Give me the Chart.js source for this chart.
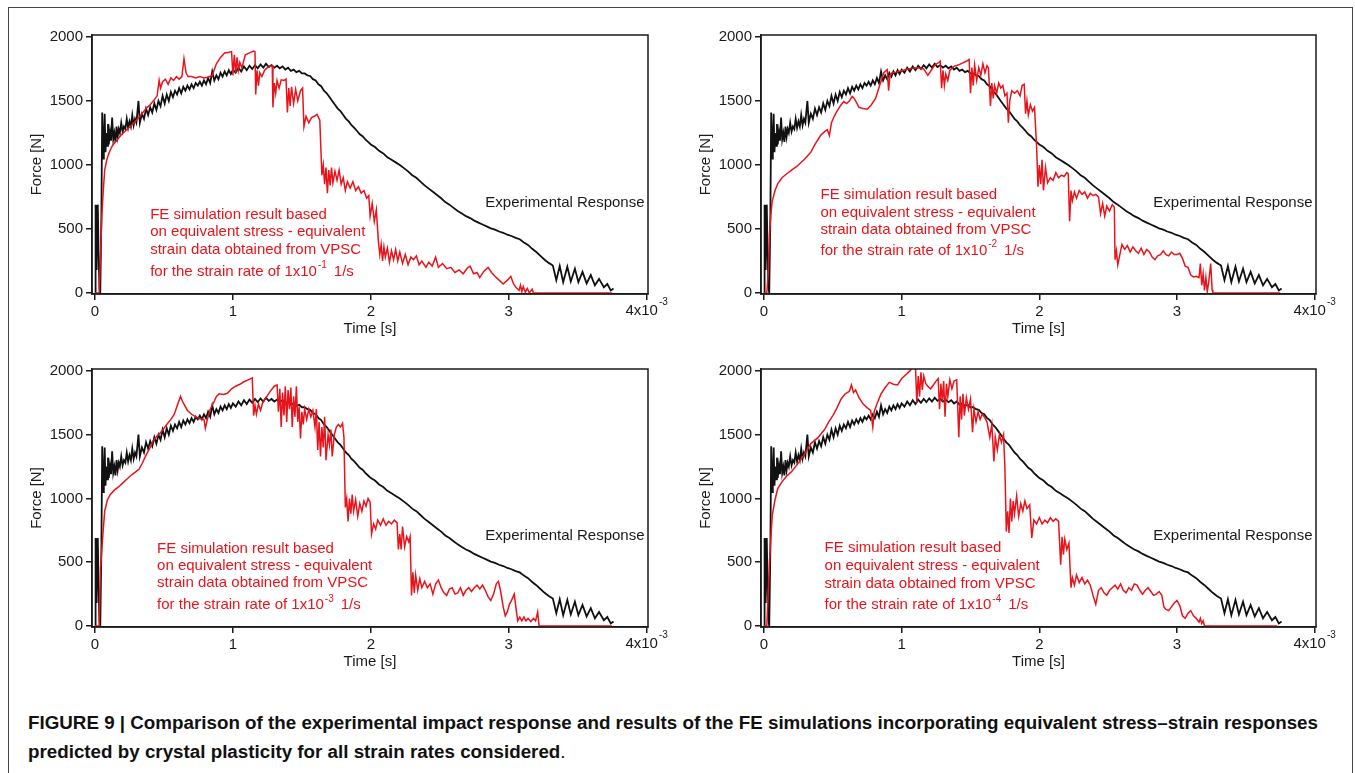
<!DOCTYPE html>
<html>
<head>
<meta charset="utf-8">
<script src="https://cdn.jsdelivr.net/npm/chart.js@4.4.1/dist/chart.umd.min.js"></script>
<style>
  body { margin: 0; width: 1355px; height: 773px; background: #fff; overflow: hidden; position: relative;
         font-family: "Liberation Sans", Arial, sans-serif; }
  #frame { position: absolute; left: 8px; top: 7px; width: 1343px; height: 800px; border: 1.5px solid #444; }
  canvas { position: absolute; }
  #caption { position: absolute; left: 28px; top: 709px; font-weight: bold; font-size: 18px; line-height: 29px;
             color: #111; transform-origin: 0 0; white-space: nowrap; }
  #caption .plain { font-weight: normal; }
</style>
</head>
<body>
<div id="frame"></div>
<canvas id="c1" width="660" height="330" style="left:10px;top:20px"></canvas>
<canvas id="c2" width="659" height="330" style="left:679px;top:20px"></canvas>
<canvas id="c3" width="660" height="329" style="left:10px;top:354px"></canvas>
<canvas id="c4" width="659" height="329" style="left:679px;top:354px"></canvas>
<div id="caption">
  <div id="cap1">FIGURE 9 | Comparison of the experimental impact response and results of the FE simulations incorporating equivalent stress–strain responses</div>
  <div id="cap2">predicted by crystal plasticity for all strain rates considered<span class="plain">.</span></div>
</div>
<script>
// tick values and labels (time axis in units of 1e-3 s)
const xTickValues = [0, 1, 2, 3, 4];
const xTickLabels = ['0', '1', '2', '3', '4x10^-3'];
const yTickValues = [0, 500, 1000, 1500, 2000];

// experimental response, [time (ms), force (N)] -- same curve in all four panels
const expResponse = [
  [0.000, 0], [0.004, 690], [0.008, 320], [0.012, 180], [0.016, 680], [0.020, 690], [0.026, 300],
  [0.032, 40], [0.038, 0], [0.046, 600], [0.052, 1410], [0.058, 1050], [0.064, 1180], [0.070, 1400],
  [0.076, 1100], [0.082, 1250], [0.088, 1150], [0.094, 1320], [0.100, 1160], [0.108, 1260],
  [0.116, 1190], [0.124, 1370], [0.132, 1200], [0.140, 1250], [0.148, 1180], [0.156, 1300],
  [0.164, 1220], [0.172, 1280], [0.180, 1250], [0.190, 1330], [0.200, 1260], [0.210, 1300],
  [0.220, 1280], [0.230, 1360], [0.240, 1290], [0.250, 1340], [0.260, 1300], [0.270, 1390],
  [0.280, 1310], [0.290, 1360], [0.300, 1330], [0.315, 1500], [0.325, 1330], [0.340, 1400],
  [0.355, 1360], [0.370, 1440], [0.385, 1390], [0.400, 1450], [0.415, 1410], [0.430, 1480],
  [0.445, 1430], [0.460, 1500], [0.475, 1460], [0.490, 1540], [0.505, 1480], [0.520, 1550],
  [0.535, 1500], [0.550, 1570], [0.565, 1530], [0.580, 1580], [0.595, 1550], [0.610, 1600],
  [0.625, 1560], [0.640, 1610], [0.655, 1580], [0.670, 1620], [0.685, 1590], [0.700, 1630],
  [0.715, 1600], [0.730, 1640], [0.745, 1620], [0.760, 1650], [0.775, 1620], [0.790, 1660],
  [0.805, 1630], [0.820, 1680], [0.835, 1640], [0.850, 1730], [0.865, 1660], [0.880, 1700],
  [0.895, 1670], [0.910, 1720], [0.925, 1690], [0.940, 1730], [0.955, 1700], [0.970, 1740],
  [0.985, 1710], [1.000, 1745], [1.020, 1720], [1.040, 1760], [1.060, 1730], [1.080, 1770],
  [1.100, 1740], [1.120, 1775], [1.140, 1750], [1.160, 1780], [1.180, 1755], [1.200, 1785],
  [1.220, 1760], [1.240, 1790], [1.260, 1765], [1.280, 1780], [1.300, 1760], [1.320, 1775],
  [1.340, 1755], [1.360, 1770], [1.380, 1745], [1.400, 1760], [1.420, 1735], [1.440, 1745],
  [1.460, 1725], [1.480, 1735], [1.500, 1715], [1.520, 1715], [1.540, 1700], [1.560, 1695],
  [1.580, 1670], [1.600, 1660], [1.620, 1630], [1.640, 1615], [1.660, 1580], [1.680, 1560],
  [1.700, 1530], [1.720, 1500], [1.740, 1470], [1.760, 1440], [1.780, 1420], [1.800, 1390],
  [1.820, 1360], [1.840, 1340], [1.860, 1310], [1.880, 1290], [1.900, 1265], [1.920, 1240],
  [1.940, 1225], [1.960, 1200], [1.980, 1180], [2.000, 1160], [2.030, 1140], [2.060, 1110],
  [2.090, 1090], [2.120, 1060], [2.150, 1040], [2.180, 1020], [2.210, 1000], [2.240, 975],
  [2.270, 950], [2.300, 920], [2.330, 900], [2.360, 870], [2.390, 840], [2.420, 815],
  [2.450, 790], [2.480, 765], [2.510, 740], [2.540, 710], [2.570, 690], [2.600, 665],
  [2.630, 640], [2.660, 620], [2.690, 600], [2.720, 585], [2.750, 565], [2.780, 550],
  [2.810, 535], [2.840, 520], [2.870, 505], [2.900, 495], [2.930, 480], [2.960, 470],
  [2.990, 455], [3.020, 445], [3.050, 430], [3.080, 420], [3.110, 395], [3.140, 375],
  [3.170, 345], [3.200, 320], [3.230, 290], [3.260, 260], [3.290, 235], [3.320, 215],
  [3.345, 100], [3.370, 210], [3.395, 85], [3.425, 205], [3.450, 90], [3.480, 190],
  [3.505, 85], [3.535, 165], [3.565, 75], [3.595, 140], [3.625, 60], [3.655, 110],
  [3.690, 45], [3.715, 70], [3.740, 20], [3.760, 35]
];

// FE simulation, strain rate 1e-1 1/s
const feRate1 = [
  [0.000, 0], [0.030, 0], [0.040, 300], [0.050, 620], [0.060, 800], [0.070, 960], [0.085, 1040],
  [0.100, 1090], [0.120, 1140], [0.140, 1170], [0.160, 1195], [0.190, 1235], [0.220, 1265],
  [0.250, 1295], [0.280, 1325], [0.310, 1360], [0.340, 1400], [0.370, 1440], [0.400, 1470],
  [0.430, 1510], [0.450, 1540], [0.465, 1660], [0.475, 1600], [0.490, 1650], [0.510, 1670],
  [0.530, 1630], [0.550, 1680], [0.570, 1660], [0.590, 1690], [0.610, 1670], [0.630, 1690],
  [0.645, 1830], [0.660, 1720], [0.675, 1690], [0.700, 1690], [0.730, 1680], [0.760, 1690],
  [0.790, 1680], [0.820, 1685], [0.850, 1700], [0.880, 1790], [0.910, 1840], [0.940, 1875],
  [0.970, 1880], [0.990, 1885], [1.000, 1700], [1.010, 1860], [1.020, 1720], [1.030, 1840],
  [1.040, 1740], [1.050, 1800], [1.065, 1760], [1.090, 1860], [1.120, 1875], [1.150, 1890],
  [1.160, 1885], [1.165, 1550], [1.175, 1740], [1.185, 1620], [1.195, 1720], [1.210, 1690],
  [1.230, 1740], [1.250, 1760], [1.270, 1770], [1.285, 1775], [1.290, 1450], [1.300, 1640],
  [1.310, 1560], [1.320, 1660], [1.335, 1600], [1.350, 1665], [1.370, 1660], [1.385, 1670],
  [1.395, 1410], [1.405, 1600], [1.415, 1460], [1.425, 1610], [1.440, 1480], [1.455, 1590],
  [1.470, 1500], [1.490, 1580], [1.505, 1600], [1.515, 1300], [1.530, 1380], [1.550, 1330],
  [1.570, 1370], [1.590, 1380], [1.610, 1395], [1.630, 1350], [1.645, 920], [1.655, 1000],
  [1.665, 850], [1.675, 980], [1.685, 780], [1.695, 960], [1.705, 840], [1.715, 980],
  [1.725, 860], [1.740, 950], [1.755, 880], [1.770, 960], [1.785, 850], [1.800, 900],
  [1.815, 800], [1.830, 870], [1.850, 820], [1.870, 870], [1.890, 800], [1.910, 830],
  [1.930, 780], [1.950, 800], [1.970, 740], [1.985, 760], [1.995, 600], [2.010, 700],
  [2.025, 560], [2.040, 650], [2.055, 400], [2.065, 300], [2.075, 380], [2.085, 250],
  [2.095, 360], [2.105, 280], [2.120, 350], [2.135, 240], [2.150, 330], [2.165, 260],
  [2.180, 340], [2.195, 250], [2.210, 320], [2.230, 230], [2.250, 300], [2.270, 220],
  [2.290, 280], [2.310, 260], [2.330, 290], [2.350, 220], [2.370, 250], [2.400, 200],
  [2.420, 240], [2.445, 210], [2.470, 280], [2.490, 200], [2.520, 230], [2.550, 190],
  [2.580, 200], [2.610, 160], [2.640, 180], [2.670, 150], [2.700, 195], [2.720, 210],
  [2.745, 150], [2.770, 160], [2.790, 120], [2.820, 170], [2.850, 200], [2.875, 160],
  [2.900, 130], [2.930, 100], [2.960, 70], [2.990, 100], [3.015, 130], [3.035, 70],
  [3.055, 40], [3.075, 20], [3.085, 60], [3.095, 10], [3.105, 50], [3.120, 5], [3.135, 35],
  [3.150, 0], [3.170, 30], [3.180, 0], [3.750, 0]
];

// FE simulation, strain rate 1e-2 1/s
const feRate2 = [
  [0.000, 0], [0.020, 0], [0.030, 150], [0.040, 460], [0.050, 620], [0.060, 720], [0.080, 800],
  [0.100, 855], [0.130, 900], [0.170, 935], [0.200, 960], [0.240, 990], [0.290, 1040],
  [0.320, 1075], [0.340, 1100], [0.370, 1160], [0.390, 1195], [0.410, 1230], [0.440, 1260],
  [0.460, 1275], [0.475, 1230], [0.490, 1330], [0.510, 1380], [0.530, 1420], [0.560, 1470],
  [0.580, 1495], [0.600, 1480], [0.620, 1500], [0.640, 1535], [0.655, 1520], [0.670, 1490],
  [0.690, 1450], [0.720, 1440], [0.750, 1435], [0.780, 1470], [0.810, 1520], [0.840, 1620],
  [0.870, 1720], [0.895, 1745], [0.905, 1580], [0.915, 1700], [0.930, 1720], [0.960, 1725],
  [1.000, 1735], [1.040, 1750], [1.080, 1755], [1.110, 1760], [1.140, 1755], [1.160, 1750],
  [1.190, 1700], [1.215, 1740], [1.240, 1780], [1.270, 1800], [1.280, 1810], [1.290, 1600],
  [1.300, 1740], [1.310, 1620], [1.320, 1710], [1.335, 1660], [1.350, 1740], [1.380, 1770],
  [1.410, 1780], [1.440, 1795], [1.470, 1810], [1.490, 1825], [1.500, 1560], [1.510, 1760],
  [1.520, 1620], [1.530, 1780], [1.545, 1660], [1.560, 1760], [1.575, 1700], [1.590, 1790],
  [1.605, 1720], [1.620, 1775], [1.630, 1760], [1.645, 1460], [1.655, 1640], [1.665, 1520],
  [1.675, 1620], [1.690, 1560], [1.705, 1640], [1.720, 1600], [1.735, 1620], [1.750, 1540],
  [1.765, 1560], [1.775, 1330], [1.785, 1500], [1.800, 1580], [1.820, 1560], [1.840, 1580],
  [1.860, 1540], [1.875, 1620], [1.890, 1630], [1.900, 1400], [1.910, 1500], [1.920, 1390],
  [1.935, 1470], [1.950, 1420], [1.965, 1450], [1.980, 1150], [1.990, 830], [2.000, 1000],
  [2.010, 850], [2.020, 1040], [2.030, 800], [2.045, 980], [2.060, 860], [2.080, 900],
  [2.100, 880], [2.120, 940], [2.140, 900], [2.160, 920], [2.180, 910], [2.200, 940],
  [2.210, 930], [2.220, 560], [2.230, 800], [2.240, 720], [2.255, 790], [2.270, 740],
  [2.290, 800], [2.310, 770], [2.330, 790], [2.350, 740], [2.370, 780], [2.390, 760],
  [2.410, 770], [2.430, 750], [2.445, 620], [2.460, 700], [2.475, 600], [2.490, 680],
  [2.510, 640], [2.530, 690], [2.545, 670], [2.550, 260], [2.560, 330], [2.570, 220],
  [2.585, 300], [2.600, 380], [2.620, 340], [2.640, 370], [2.660, 320], [2.680, 360],
  [2.700, 330], [2.720, 310], [2.740, 350], [2.760, 300], [2.780, 340], [2.800, 320],
  [2.820, 280], [2.840, 260], [2.860, 290], [2.880, 300], [2.900, 330], [2.920, 300],
  [2.940, 290], [2.960, 320], [2.980, 300], [3.000, 300], [3.020, 310], [3.040, 270],
  [3.060, 210], [3.080, 200], [3.100, 140], [3.120, 125], [3.140, 130], [3.160, 120],
  [3.170, 230], [3.180, 60], [3.190, 150], [3.200, 20], [3.210, 120], [3.220, 10],
  [3.230, 80], [3.245, 230], [3.255, 30], [3.260, 0], [3.750, 0]
];

// FE simulation, strain rate 1e-3 1/s
const feRate3 = [
  [0.000, 0], [0.030, 0], [0.040, 456], [0.050, 610], [0.060, 760], [0.070, 900], [0.090, 990],
  [0.110, 1030], [0.140, 1065], [0.170, 1090], [0.200, 1120], [0.230, 1150], [0.260, 1180],
  [0.290, 1205], [0.320, 1230], [0.340, 1270], [0.370, 1340], [0.400, 1400], [0.420, 1450],
  [0.450, 1490], [0.470, 1510], [0.500, 1550], [0.520, 1580], [0.550, 1620], [0.575, 1660],
  [0.600, 1740], [0.620, 1800], [0.635, 1760], [0.650, 1730], [0.670, 1690], [0.700, 1660],
  [0.730, 1640], [0.760, 1625], [0.790, 1620], [0.800, 1550], [0.815, 1620], [0.835, 1700],
  [0.860, 1750], [0.880, 1800], [0.900, 1820], [0.930, 1815], [0.960, 1825], [0.990, 1860],
  [1.020, 1880], [1.050, 1895], [1.080, 1915], [1.110, 1930], [1.140, 1945], [1.150, 1650],
  [1.160, 1730], [1.170, 1660], [1.185, 1740], [1.200, 1690], [1.215, 1750], [1.240, 1790],
  [1.270, 1840], [1.300, 1880], [1.320, 1890], [1.330, 1680], [1.340, 1860], [1.350, 1560],
  [1.360, 1830], [1.370, 1650], [1.380, 1880], [1.390, 1600], [1.400, 1850], [1.410, 1700],
  [1.420, 1870], [1.430, 1560], [1.440, 1800], [1.450, 1640], [1.460, 1880], [1.470, 1600],
  [1.480, 1720], [1.490, 1470], [1.500, 1680], [1.510, 1580], [1.520, 1700], [1.535, 1620],
  [1.550, 1700], [1.565, 1640], [1.580, 1690], [1.595, 1560], [1.605, 1700], [1.615, 1380],
  [1.625, 1600], [1.635, 1330], [1.645, 1560], [1.655, 1400], [1.665, 1640], [1.675, 1300],
  [1.690, 1500], [1.700, 1420], [1.710, 1540], [1.720, 1330], [1.735, 1500], [1.750, 1560],
  [1.765, 1580], [1.780, 1560], [1.795, 1590], [1.805, 1480], [1.815, 930], [1.825, 1000],
  [1.835, 820], [1.845, 1000], [1.855, 880], [1.865, 1030], [1.875, 900], [1.890, 990],
  [1.905, 860], [1.920, 960], [1.935, 900], [1.950, 980], [1.965, 940], [1.980, 1000],
  [1.995, 970], [2.005, 720], [2.020, 800], [2.035, 760], [2.050, 830], [2.070, 790],
  [2.090, 840], [2.110, 790], [2.130, 820], [2.150, 800], [2.170, 830], [2.190, 810],
  [2.200, 600], [2.210, 720], [2.220, 600], [2.230, 780], [2.245, 620], [2.260, 700],
  [2.275, 660], [2.285, 700], [2.295, 240], [2.305, 420], [2.315, 260], [2.325, 400],
  [2.340, 280], [2.355, 370], [2.370, 300], [2.390, 350], [2.410, 300], [2.430, 330],
  [2.450, 250], [2.470, 330], [2.490, 360], [2.510, 300], [2.530, 260], [2.550, 240],
  [2.570, 290], [2.590, 300], [2.610, 250], [2.630, 260], [2.650, 300], [2.670, 240],
  [2.690, 280], [2.710, 300], [2.730, 270], [2.750, 300], [2.770, 320], [2.790, 290],
  [2.810, 320], [2.830, 280], [2.850, 230], [2.870, 200], [2.890, 250], [2.910, 330],
  [2.925, 350], [2.940, 280], [2.960, 150], [2.975, 80], [2.990, 110], [3.005, 170],
  [3.020, 200], [3.040, 250], [3.055, 120], [3.065, 40], [3.080, 70], [3.095, 40],
  [3.110, 70], [3.125, 40], [3.140, 60], [3.160, 35], [3.180, 60], [3.195, 40], [3.210, 110],
  [3.220, 0], [3.750, 0]
];

// FE simulation, strain rate 1e-4 1/s
const feRate4 = [
  [0.000, 0], [0.020, 0], [0.030, 250], [0.040, 508], [0.050, 700], [0.060, 870], [0.080, 990],
  [0.100, 1080], [0.130, 1130], [0.160, 1170], [0.200, 1210], [0.240, 1265], [0.290, 1340],
  [0.340, 1430], [0.390, 1475], [0.440, 1540], [0.470, 1600], [0.500, 1650], [0.530, 1710],
  [0.560, 1780], [0.590, 1820], [0.620, 1840], [0.635, 1890], [0.650, 1830], [0.665, 1850],
  [0.690, 1790], [0.720, 1740], [0.750, 1710], [0.775, 1690], [0.790, 1560], [0.800, 1680],
  [0.820, 1740], [0.850, 1820], [0.880, 1870], [0.910, 1910], [0.940, 1895], [0.970, 1890],
  [1.000, 1940], [1.030, 1970], [1.060, 2000], [1.080, 2030], [1.100, 2040], [1.110, 1750],
  [1.120, 1960], [1.130, 1800], [1.140, 1990], [1.150, 1850], [1.160, 1960], [1.175, 1900],
  [1.190, 1880], [1.210, 1860], [1.230, 1890], [1.250, 1920], [1.265, 1940], [1.275, 1700],
  [1.285, 1900], [1.295, 1760], [1.305, 1920], [1.315, 1640], [1.325, 1900], [1.335, 1800],
  [1.350, 1930], [1.365, 1860], [1.380, 1920], [1.400, 1930], [1.415, 1480], [1.425, 1800],
  [1.435, 1620], [1.445, 1820], [1.455, 1650], [1.470, 1790], [1.485, 1700], [1.500, 1780],
  [1.515, 1520], [1.525, 1700], [1.540, 1600], [1.555, 1680], [1.570, 1620], [1.585, 1660],
  [1.600, 1640], [1.620, 1600], [1.640, 1480], [1.655, 1580], [1.670, 1290], [1.680, 1480],
  [1.695, 1380], [1.710, 1500], [1.725, 1440], [1.740, 1500], [1.750, 1240], [1.760, 740],
  [1.770, 900], [1.780, 730], [1.790, 1000], [1.800, 820], [1.810, 980], [1.820, 880],
  [1.835, 1020], [1.850, 860], [1.865, 960], [1.880, 900], [1.895, 980], [1.910, 920],
  [1.930, 950], [1.945, 690], [1.960, 830], [1.980, 800], [2.000, 850], [2.020, 800],
  [2.040, 830], [2.060, 810], [2.080, 850], [2.100, 820], [2.120, 840], [2.140, 820],
  [2.155, 480], [2.165, 700], [2.175, 560], [2.185, 680], [2.200, 600], [2.215, 650],
  [2.230, 300], [2.240, 380], [2.255, 320], [2.270, 400], [2.290, 340], [2.310, 380],
  [2.330, 330], [2.350, 360], [2.370, 320], [2.390, 240], [2.410, 170], [2.430, 280],
  [2.450, 300], [2.470, 260], [2.490, 240], [2.510, 280], [2.530, 300], [2.550, 320],
  [2.570, 290], [2.590, 330], [2.610, 280], [2.630, 260], [2.650, 300], [2.670, 280],
  [2.690, 330], [2.710, 320], [2.730, 280], [2.750, 250], [2.770, 280], [2.790, 300],
  [2.810, 270], [2.830, 240], [2.850, 250], [2.870, 270], [2.890, 240], [2.905, 150],
  [2.920, 130], [2.940, 120], [2.960, 150], [2.980, 180], [3.000, 200], [3.020, 160],
  [3.040, 80], [3.060, 60], [3.080, 100], [3.100, 120], [3.120, 80], [3.140, 60],
  [3.160, 30], [3.170, 60], [3.180, 20], [3.190, 40], [3.200, 0], [3.730, 0]
];

const feLines = [
  'FE simulation result based',
  'on equivalent stress - equivalent',
  'strain data obtained from VPSC',
  'for the strain rate of 1x10'
];
const rateExponents = ['-1', '-2', '-3', '-4'];

const FONT = '"Liberation Sans", Arial, sans-serif';
const RED = '#e8141c';
const INK = '#1a1a1a';

Chart.defaults.font.family = FONT;
Chart.defaults.font.size = 15;
Chart.defaults.color = INK;

// anchor of the red note (top line, data coords) for each panel
const panels = [
  { id: 'c1', fe: feRate1, exp: rateExponents[0], note: { t: 0.40, f: 612 }, lineGap: [0, 17.5, 35, 57] },
  { id: 'c2', fe: feRate2, exp: rateExponents[1], note: { t: 0.41, f: 768 }, lineGap: [0, 18, 35, 56] },
  { id: 'c3', fe: feRate3, exp: rateExponents[2], note: { t: 0.45, f: 601 }, lineGap: [0, 17, 34, 56] },
  { id: 'c4', fe: feRate4, exp: rateExponents[3], note: { t: 0.44, f: 609 }, lineGap: [0, 18, 36, 57] }
];

function drawSup(ctx, x, y, base, sup, align) {
  ctx.font = '15px ' + FONT;
  const wb = ctx.measureText(base).width;
  ctx.font = '10px ' + FONT;
  const ws = ctx.measureText(sup).width;
  let x0 = x;
  if (align === 'center') x0 = x - (wb + ws + 1) / 2;
  ctx.textAlign = 'left';
  ctx.font = '15px ' + FONT;
  ctx.fillText(base, x0, y);
  ctx.font = '10px ' + FONT;
  ctx.fillText(sup, x0 + wb + 1, y - 6);
  return x0 + wb + 1 + ws;
}

const decor = {
  id: 'decor',
  afterDraw(chart, args, opts) {
    const { ctx, chartArea: a, scales } = chart;
    ctx.save();
    // box around the plot area
    ctx.strokeStyle = INK;
    ctx.lineWidth = 1.5;
    ctx.strokeRect(a.left, a.top, a.right - a.left, a.bottom - a.top);

    // last x tick label with exponent
    ctx.fillStyle = INK;
    ctx.textBaseline = 'top';
    const lab = xTickLabels[xTickLabels.length - 1].split('^');
    drawSup(ctx, scales.x.getPixelForValue(xTickValues[xTickValues.length - 1]), a.bottom + 9, lab[0], lab[1], 'center');

    // experimental label
    ctx.textBaseline = 'middle';
    ctx.textAlign = 'right';
    ctx.font = '15px ' + FONT;
    ctx.fillText('Experimental Response', scales.x.getPixelForValue(3.985), scales.y.getPixelForValue(705));

    // FE note
    ctx.fillStyle = RED;
    ctx.textAlign = 'left';
    const x0 = scales.x.getPixelForValue(opts.note.t);
    const y0 = scales.y.getPixelForValue(opts.note.f);
    feLines.forEach((s, i) => {
      const y = y0 + opts.lineGap[i];
      if (i < feLines.length - 1) {
        ctx.font = '15px ' + FONT;
        ctx.fillText(s, x0, y);
      } else {
        const xe = drawSup(ctx, x0, y, s, opts.exp, 'left');
        ctx.font = '15px ' + FONT;
        ctx.fillText('1/s', xe + 7, y);
      }
    });
    ctx.restore();
  }
};

function toXY(arr) {
  return arr.map(p => ({ x: p[0], y: p[1] }));
}

panels.forEach(p => {
  new Chart(document.getElementById(p.id), {
    type: 'line',
    data: {
      datasets: [
        { data: toXY(p.fe), borderColor: RED, borderWidth: 1.5, pointRadius: 0, tension: 0, order: 0 },
        { data: toXY(expResponse), borderColor: '#111', borderWidth: 1.8, pointRadius: 0, tension: 0, order: 1 }
      ]
    },
    options: {
      responsive: false,
      animation: false,
      events: [],
      layout: { padding: { left: 0, top: 15, right: 22, bottom: 0 } },
      plugins: {
        legend: { display: false },
        tooltip: { enabled: false },
        decor: { note: p.note, exp: p.exp, lineGap: p.lineGap }
      },
      scales: {
        x: {
          type: 'linear',
          min: -0.022,
          max: 4.01,
          afterBuildTicks: s => { s.ticks = xTickValues.map(v => ({ value: v })); },
          afterFit: s => { s.height = 56; },
          grid: { drawOnChartArea: false, drawTicks: true, tickLength: 6, color: INK, lineWidth: 1.5 },
          border: { display: true, color: INK, width: 1.5 },
          ticks: {
            padding: 3, maxRotation: 0, autoSkip: false,
            callback: (v, i) => (xTickLabels[i].includes('^') ? '' : xTickLabels[i])
          },
          title: { display: true, text: 'Time [s]', padding: { top: 0, bottom: 12 } }
        },
        y: {
          min: -8,
          max: 2015,
          afterBuildTicks: s => { s.ticks = yTickValues.map(v => ({ value: v })); },
          afterFit: s => { s.width = 82; },
          grid: { drawOnChartArea: false, drawTicks: true, tickLength: 6, color: INK, lineWidth: 1.5 },
          border: { display: true, color: INK, width: 1.5 },
          ticks: { padding: 3, autoSkip: false, callback: v => String(v) },
          title: { display: true, text: 'Force [N]', padding: { top: 18, bottom: 0 } }
        }
      }
    },
    plugins: [decor]
  });
});

// squeeze the caption to the condensed width of the original
const cap = document.getElementById('caption');
const w1 = document.getElementById('cap1').getBoundingClientRect().width;
cap.style.transform = 'scaleX(' + (1290 / w1) + ')';
</script>
</body>
</html>
